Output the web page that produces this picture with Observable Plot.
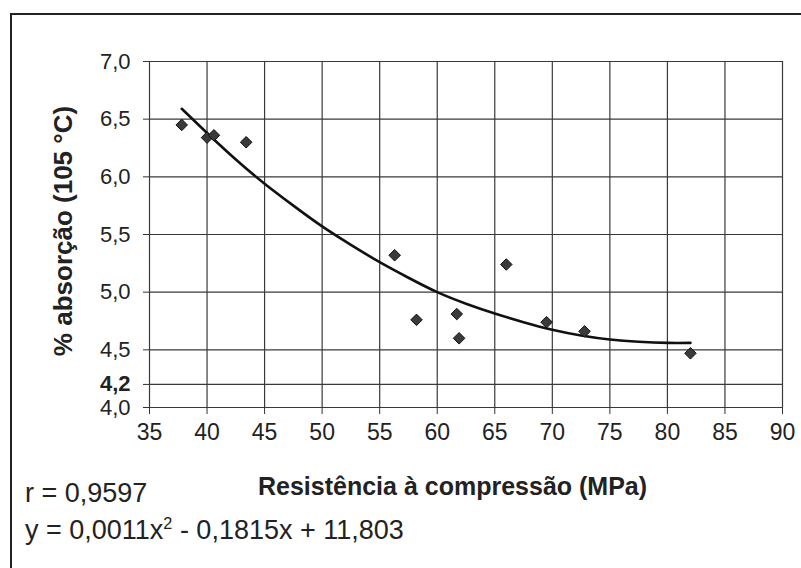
<!DOCTYPE html>
<html>
<head>
<meta charset="utf-8">
<script src="https://cdn.jsdelivr.net/npm/d3@7"></script>
<script src="https://cdn.jsdelivr.net/npm/@observablehq/plot@0.6"></script>
<style>
  html, body { margin: 0; padding: 0; background: #fff; }
  #wrap { position: relative; width: 801px; height: 568px; overflow: hidden; font-family: Arial, "Liberation Sans", sans-serif; color: #222; }
  #wrap svg { position: absolute; left: 0; top: 0; }
  .t { position: absolute; white-space: nowrap; line-height: 1; }
  #frame { position: absolute; left: 10px; top: 13px; width: 800px; height: 570px; border-left: 2px solid #222; border-top: 2px solid #222; }
</style>
</head>
<body>
<div id="wrap">
  <div id="frame"></div>
</div>
<script>
// Data
const strength   = [37.8, 40.0, 40.6, 43.4, 56.3, 58.2, 61.7, 61.9, 66.0, 69.5, 72.8, 82.0];
const absorption = [6.45, 6.34, 6.36, 6.30, 5.32, 4.76, 4.81, 4.60, 5.24, 4.74, 4.66, 4.47];

// Trend curve
const curveX = [37.8, 40, 42.5, 45, 47.5, 50, 52.5, 55, 57.5, 60, 62.5, 65, 67.5, 70, 72.5, 75, 77.5, 80, 82];
const curveY = [6.59, 6.38, 6.15, 5.94, 5.75, 5.57, 5.41, 5.26, 5.125, 5.00, 4.90, 4.815, 4.74, 4.675, 4.625, 4.59, 4.57, 4.56, 4.56];

const xTicks = [35, 40, 45, 50, 55, 60, 65, 70, 75, 80, 85, 90];
const yTicks = [4.0, 4.5, 5.0, 5.5, 6.0, 6.5, 7.0];
const yTickBold = [4.2];

const yLabel = "% absorção (105 °C)";
const xLabel = "Resistência à compressão (MPa)";
const rText = "r = 0,9597";

const points = strength.map((s, i) => ({x: s, y: absorption[i]}));
const curve = curveX.map((c, i) => ({x: c, y: curveY[i]}));
const fmt = d => d.toFixed(1).replace(".", ",");
const gridStyle = {stroke: "#3a3a3a", strokeOpacity: 1, strokeWidth: 1.2};

const chart = Plot.plot({
  width: 801,
  height: 568,
  marginLeft: 149,
  marginRight: 19,
  marginTop: 61,
  marginBottom: 161,
  style: {fontFamily: "Arial, 'Liberation Sans', sans-serif", fontSize: "22px", color: "#222", background: "transparent", overflow: "visible"},
  x: {domain: [35, 90], label: null},
  y: {domain: [4, 7], label: null},
  marks: [
    Plot.gridX(xTicks, gridStyle),
    Plot.gridY([...yTicks, ...yTickBold], gridStyle),
    Plot.axisX(xTicks, {tickSize: 7, tickPadding: 9, fontSize: 23, tickFormat: d => String(d), label: null, stroke: "#333"}),
    Plot.axisY(yTicks, {tickSize: 6, tickPadding: 13, fontSize: 22, tickFormat: fmt, label: null, stroke: "#333"}),
    Plot.axisY(yTickBold, {tickSize: 6, tickPadding: 13, fontSize: 22, fontWeight: "bold", tickFormat: fmt, label: null, stroke: "#333"}),
    Plot.line(curve, {x: "x", y: "y", curve: "natural", stroke: "#111", strokeWidth: 2.6}),
    Plot.dot(points, {x: "x", y: "y", symbol: "diamond2", r: 5.2, fill: "#3a3a3a", stroke: "#111", strokeWidth: 1})
  ]
});
const wrap = document.getElementById("wrap");
wrap.appendChild(chart);

function addText(txt, left, top, size, weight, html) {
  const d = document.createElement("div");
  d.className = "t";
  d.style.left = left + "px";
  d.style.top = top + "px";
  d.style.fontSize = size + "px";
  d.style.fontWeight = weight;
  if (html) d.innerHTML = txt; else d.textContent = txt;
  wrap.appendChild(d);
  return d;
}
addText(rText, 25, 480, 27, "normal");
addText(xLabel, 258, 474, 25, "bold");
addText("y = 0,0011x<sup style=\"font-size:0.6em;position:relative;top:-0.1em;vertical-align:top\">2</sup> - 0,1815x + 11,803", 25, 517, 27, "normal", true);
const yl = addText(yLabel, 63, 231, 26, "bold");
yl.style.transform = "translate(-50%, -50%) rotate(-90deg)";
</script>
</body>
</html>
